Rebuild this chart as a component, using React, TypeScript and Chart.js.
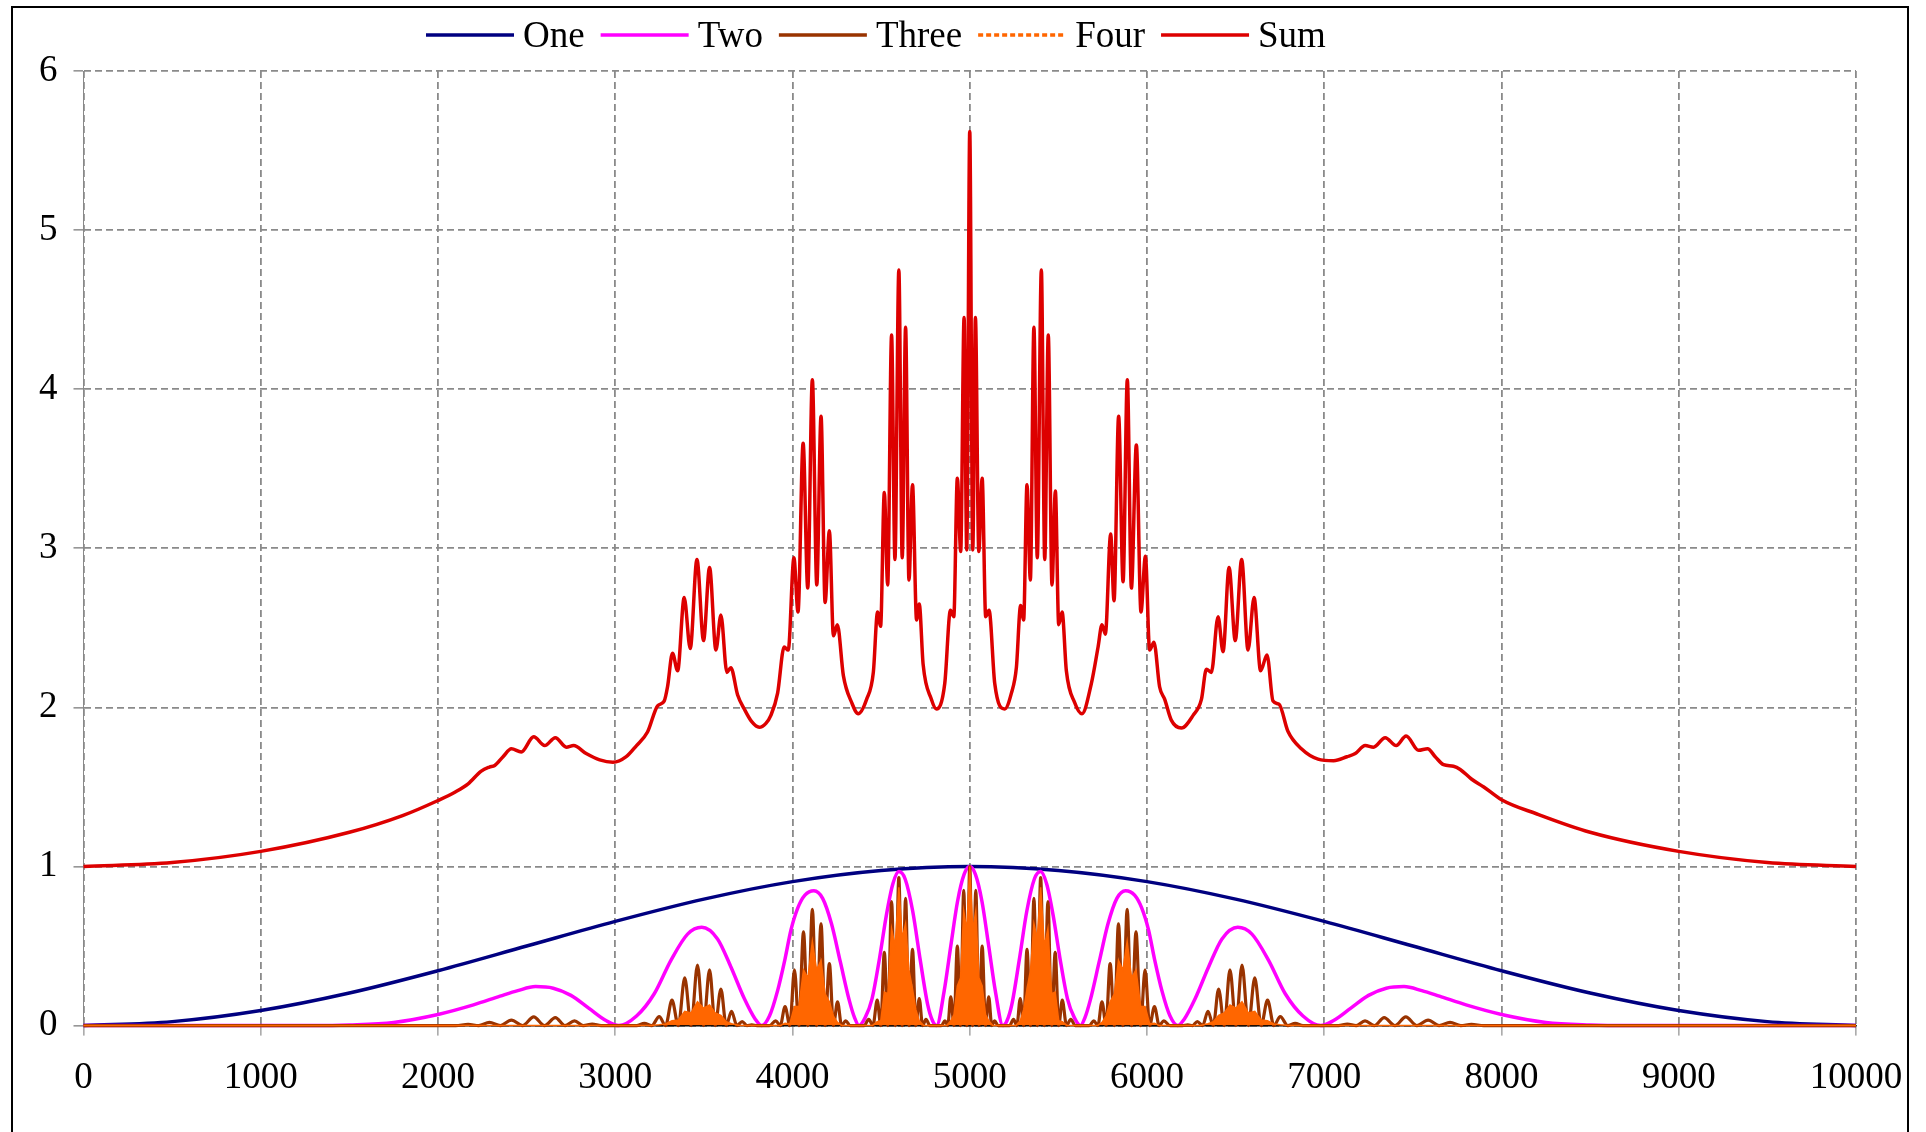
import React, { useEffect, useRef } from 'react';
import { Chart, registerables } from 'chart.js';

Chart.register(...registerables);

const FONT = '"Liberation Serif", "Times New Roman", Times, serif';

const seriesNames = ['One', 'Two', 'Three', 'Four', 'Sum'];
const seriesColors = ['#000080', '#FF00FF', '#993300', '#FF6600', '#DD0000'];

const xTicks = [0, 1000, 2000, 3000, 4000, 5000, 6000, 7000, 8000, 9000, 10000];
const yTicks = [0, 1, 2, 3, 4, 5, 6];

const oneData: [number, number][] = [
  [0, 0], [500, 0.025], [1000, 0.095], [1500, 0.205], [2000, 0.345], [2500, 0.5], [3000, 0.655],
  [3500, 0.795], [4000, 0.905], [4500, 0.975], [5000, 1.0], [5500, 0.975], [6000, 0.905],
  [6500, 0.795], [7000, 0.655], [7500, 0.5], [8000, 0.345], [8500, 0.205], [9000, 0.095],
  [9500, 0.025], [10000, 0],
];

const twoData: [number, number][] = [
  [0, 0], [1300, 0], [1500, 0.004], [1750, 0.02], [2000, 0.07], [2200, 0.13], [2350, 0.185],
  [2450, 0.22], [2550, 0.245], [2650, 0.235], [2750, 0.19], [2850, 0.11], [2950, 0.03], [3020, 0],
  [3120, 0.06], [3220, 0.2], [3314, 0.41], [3408, 0.575], [3488, 0.618], [3577, 0.545], [3652, 0.37],
  [3728, 0.17], [3790, 0.04], [3826, 0],
  [3870, 0.06], [3916, 0.22], [3958, 0.42], [3991, 0.6], [4030, 0.74], [4070, 0.82], [4121, 0.848],
  [4170, 0.8], [4220, 0.64], [4270, 0.4], [4320, 0.16], [4350, 0.05], [4375, 0],
  [4410, 0.05], [4449, 0.17], [4492, 0.43], [4529, 0.69], [4566, 0.89], [4600, 0.968], [4636, 0.92],
  [4678, 0.72], [4721, 0.41], [4763, 0.13], [4790, 0.03], [4813, 0],
  [4856, 0.22], [4893, 0.5], [4931, 0.78], [4968, 0.95], [5000, 1.0], [5032, 0.95], [5069, 0.78],
  [5107, 0.5], [5144, 0.22], [5187, 0],
  [5210, 0.03], [5237, 0.13], [5279, 0.41], [5322, 0.72], [5364, 0.92], [5400, 0.968], [5434, 0.89],
  [5471, 0.69], [5508, 0.43], [5551, 0.17], [5590, 0.05], [5625, 0],
  [5650, 0.05], [5680, 0.16], [5730, 0.4], [5780, 0.64], [5830, 0.8], [5879, 0.848], [5930, 0.82],
  [5970, 0.74], [6009, 0.6], [6042, 0.42], [6084, 0.22], [6130, 0.06], [6174, 0],
  [6210, 0.04], [6272, 0.17], [6348, 0.37], [6423, 0.545], [6512, 0.618], [6592, 0.575],
  [6686, 0.41], [6780, 0.2], [6880, 0.06], [6980, 0],
  [7050, 0.03], [7150, 0.11], [7250, 0.19], [7350, 0.235], [7450, 0.245], [7550, 0.22],
  [7650, 0.185], [7800, 0.13], [8000, 0.07], [8250, 0.02], [8500, 0.004], [8700, 0], [10000, 0],
];

const threeData: [number, number][] = [
  [0, 0], [2100, 0], [2170, 0.008], [2230, 0], [2290, 0.02], [2352, 0], [2414, 0.035], [2477, 0],
  [2540, 0.055], [2601, 0], [2662, 0.05], [2716, 0], [2770, 0.03], [2820, 0], [2870, 0.01], [2920, 0],
  [3120, 0], [3164, 0.014], [3206, 0], [3248, 0.056], [3284, 0], [3320, 0.16], [3356, 0], [3392, 0.3],
  [3428, 0], [3464, 0.38], [3498, 0], [3532, 0.35], [3564, 0], [3596, 0.23], [3626, 0], [3656, 0.09],
  [3686, 0], [3716, 0.025], [3743, 0], [3770, 0.005], [3800, 0],
  [3870, 0], [3905, 0.03], [3931, 0], [3958, 0.12], [3985, 0], [4011, 0.35], [4036, 0], [4062, 0.59],
  [4087, 0], [4112, 0.73], [4136, 0], [4161, 0.64], [4184, 0], [4208, 0.39], [4231, 0], [4254, 0.15],
  [4277, 0], [4300, 0.03], [4325, 0],
  [4405, 0], [4430, 0.04], [4454, 0], [4478, 0.16], [4498, 0], [4518, 0.46], [4538, 0], [4559, 0.78],
  [4579, 0], [4600, 0.93], [4619, 0], [4638, 0.8], [4657, 0], [4677, 0.48], [4696, 0], [4715, 0.17],
  [4734, 0], [4753, 0.04], [4775, 0],
  [4840, 0], [4860, 0.03], [4876, 0], [4893, 0.18], [4911, 0], [4930, 0.5], [4948, 0], [4966, 0.85],
  [4983, 0], [5000, 1.0], [5017, 0], [5034, 0.85], [5052, 0], [5070, 0.5], [5089, 0], [5107, 0.18],
  [5124, 0], [5140, 0.03], [5160, 0],
  [5225, 0], [5247, 0.04], [5266, 0], [5285, 0.17], [5304, 0], [5323, 0.48], [5343, 0], [5362, 0.8],
  [5381, 0], [5400, 0.93], [5421, 0], [5441, 0.78], [5462, 0], [5482, 0.46], [5502, 0], [5522, 0.16],
  [5546, 0], [5570, 0.04], [5595, 0],
  [5675, 0], [5700, 0.03], [5723, 0], [5746, 0.15], [5769, 0], [5792, 0.39], [5816, 0], [5839, 0.64],
  [5864, 0], [5888, 0.73], [5913, 0], [5938, 0.59], [5964, 0], [5989, 0.35], [6015, 0], [6042, 0.12],
  [6069, 0], [6095, 0.03], [6130, 0],
  [6200, 0], [6230, 0.005], [6257, 0], [6284, 0.025], [6314, 0], [6344, 0.09], [6374, 0], [6404, 0.23],
  [6436, 0], [6468, 0.35], [6502, 0], [6536, 0.38], [6572, 0], [6608, 0.3], [6644, 0], [6680, 0.16],
  [6716, 0], [6752, 0.056], [6794, 0], [6836, 0.014], [6880, 0],
  [7080, 0], [7130, 0.01], [7180, 0], [7230, 0.03], [7284, 0], [7338, 0.05], [7399, 0], [7460, 0.055],
  [7523, 0], [7586, 0.035], [7648, 0], [7710, 0.02], [7770, 0], [7830, 0.008], [7900, 0], [10000, 0],
];

const fourData: [number, number][] = [
  [0, 0], [3200, 0], [3248, 0.005], [3284, 0.01], [3320, 0.03], [3356, 0.035], [3392, 0.09], [3428, 0.08],
  [3464, 0.15], [3498, 0.11], [3532, 0.13], [3564, 0.08], [3596, 0.065], [3626, 0.025], [3656, 0.012], [3700, 0],
  [3930, 0], [3958, 0.015], [3985, 0.012], [4011, 0.12], [4036, 0.12], [4062, 0.35], [4087, 0.3], [4112, 0.53],
  [4136, 0.35], [4161, 0.41], [4184, 0.2], [4208, 0.15], [4231, 0.06], [4254, 0.02], [4280, 0],
  [4450, 0], [4478, 0.025], [4498, 0.03], [4518, 0.21], [4538, 0.2], [4559, 0.61], [4579, 0.5], [4600, 0.87],
  [4619, 0.55], [4638, 0.64], [4657, 0.35], [4677, 0.23], [4696, 0.1], [4715, 0.03], [4740, 0],
  [4870, 0], [4893, 0.03], [4911, 0.07], [4930, 0.25], [4948, 0.3], [4966, 0.72], [4983, 0.6], [5000, 1.0],
  [5017, 0.6], [5034, 0.72], [5052, 0.3], [5070, 0.25], [5089, 0.07], [5107, 0.03], [5130, 0],
  [5260, 0], [5285, 0.03], [5304, 0.1], [5323, 0.23], [5343, 0.35], [5362, 0.64], [5381, 0.55], [5400, 0.87],
  [5421, 0.5], [5441, 0.61], [5462, 0.2], [5482, 0.21], [5502, 0.03], [5522, 0.025], [5550, 0],
  [5720, 0], [5746, 0.02], [5769, 0.06], [5792, 0.15], [5816, 0.2], [5839, 0.41], [5864, 0.35], [5888, 0.53],
  [5913, 0.3], [5938, 0.35], [5964, 0.12], [5989, 0.12], [6015, 0.012], [6042, 0.015], [6070, 0],
  [6300, 0], [6344, 0.012], [6374, 0.025], [6404, 0.065], [6436, 0.08], [6468, 0.13], [6502, 0.11], [6536, 0.15],
  [6572, 0.08], [6608, 0.09], [6644, 0.035], [6680, 0.03], [6716, 0.01], [6752, 0.005], [6800, 0], [10000, 0],
];

const sumData: [number, number][] = [
  [0, 1.0], [500, 1.025], [1000, 1.095], [1500, 1.215], [1800, 1.32], [2000, 1.415], [2100, 1.47],
  [2170, 1.52], [2244, 1.6], [2290, 1.625], [2320, 1.635], [2367, 1.69], [2414, 1.74], [2470, 1.72],
  [2540, 1.815], [2602, 1.76], [2662, 1.81], [2724, 1.75], [2765, 1.76], [2836, 1.71], [2912, 1.67],
  [2987, 1.655], [3062, 1.69], [3120, 1.76], [3182, 1.845], [3239, 2.01], [3276, 2.04], [3295, 2.13],
  [3323, 2.34], [3352, 2.23], [3389, 2.69], [3423, 2.37], [3461, 2.93], [3498, 2.42], [3532, 2.88],
  [3568, 2.36], [3596, 2.58], [3630, 2.22], [3652, 2.25], [3690, 2.08], [3728, 1.99], [3770, 1.91],
  [3812, 1.875], [3850, 1.9], [3878, 1.95], [3916, 2.09], [3953, 2.38], [3976, 2.36], [4008, 2.94],
  [4031, 2.6], [4060, 3.66], [4086, 2.75], [4112, 4.06], [4137, 2.77], [4161, 3.83], [4184, 2.66],
  [4208, 3.11], [4231, 2.45], [4253, 2.52], [4287, 2.2], [4334, 2.03], [4371, 1.96], [4418, 2.05],
  [4456, 2.22], [4480, 2.6], [4497, 2.51], [4518, 3.35], [4537, 2.77], [4559, 4.34], [4578, 2.93],
  [4600, 4.75], [4619, 2.94], [4638, 4.39], [4657, 2.8], [4677, 3.4], [4700, 2.55], [4715, 2.65],
  [4737, 2.27], [4784, 2.05], [4812, 1.99], [4859, 2.15], [4891, 2.61], [4910, 2.57], [4930, 3.44],
  [4949, 2.98], [4968, 4.45], [4983, 2.99], [5000, 5.62], [5017, 2.99], [5032, 4.45], [5051, 2.98],
  [5070, 3.44], [5090, 2.57], [5109, 2.61], [5141, 2.15], [5197, 1.99], [5235, 2.09], [5263, 2.25],
  [5287, 2.64], [5304, 2.55], [5323, 3.4], [5342, 2.8], [5362, 4.39], [5381, 2.94], [5404, 4.75],
  [5423, 2.93], [5443, 4.34], [5464, 2.77], [5483, 3.36], [5502, 2.52], [5521, 2.6], [5545, 2.23],
  [5592, 2.03], [5633, 1.96], [5686, 2.15], [5724, 2.38], [5746, 2.52], [5765, 2.46], [5795, 3.09],
  [5814, 2.67], [5840, 3.83], [5865, 2.79], [5889, 4.06], [5912, 2.75], [5940, 3.65], [5966, 2.6],
  [5991, 2.95], [6015, 2.36], [6039, 2.41], [6071, 2.13], [6100, 2.05], [6137, 1.92], [6194, 1.87],
  [6260, 1.95], [6307, 2.05], [6335, 2.24], [6363, 2.22], [6401, 2.57], [6429, 2.35], [6463, 2.88],
  [6498, 2.42], [6534, 2.93], [6570, 2.36], [6604, 2.69], [6641, 2.23], [6677, 2.33], [6711, 2.04],
  [6745, 2.02], [6795, 1.85], [6871, 1.74], [6965, 1.675], [7053, 1.665], [7128, 1.69], [7175, 1.71],
  [7231, 1.76], [7278, 1.75], [7344, 1.81], [7406, 1.76], [7462, 1.82], [7532, 1.73], [7583, 1.74],
  [7626, 1.69], [7673, 1.64], [7729, 1.63], [7767, 1.61], [7830, 1.55], [7900, 1.5], [8000, 1.42],
  [8200, 1.33], [8500, 1.215], [9000, 1.095], [9500, 1.025], [10000, 1.0],
];

const legendDash: number[][] = [[], [], [], [5, 3], []];

const excelLegend = {
  id: 'excelLegend',
  afterDraw(chart: any) {
    const ctx = chart.ctx as CanvasRenderingContext2D;
    ctx.save();
    ctx.font = `37px ${FONT}`;
    ctx.textBaseline = 'middle';
    ctx.textAlign = 'left';
    let x = 426;
    const y = 36;
    chart.data.datasets.forEach((ds: any, i: number) => {
      ctx.strokeStyle = ds.borderColor;
      ctx.lineWidth = 3.5;
      ctx.setLineDash(legendDash[i]);
      ctx.beginPath();
      ctx.moveTo(x, y - 1);
      ctx.lineTo(x + 88, y - 1);
      ctx.stroke();
      ctx.setLineDash([]);
      ctx.fillStyle = '#000';
      ctx.fillText(ds.label, x + 97, y + 1);
      x += 97 + ctx.measureText(ds.label).width + 16;
    });
    // outer chart frame
    ctx.strokeStyle = '#000';
    ctx.lineWidth = 2;
    ctx.beginPath();
    ctx.moveTo(12, 1132);
    ctx.lineTo(12, 7);
    ctx.lineTo(1908, 7);
    ctx.lineTo(1908, 1132);
    ctx.stroke();
    ctx.restore();
  },
};

const toPoints = (d: [number, number][]) => d.map(([x, y]) => ({ x, y }));

export default function App() {
  const ref = useRef<HTMLCanvasElement>(null);

  useEffect(() => {
    if (!ref.current) return;
    const all = [oneData, twoData, threeData, fourData, sumData];
    const widths = [3.5, 3.5, 3.2, 1.5, 3.5];
    const orders = [4, 3, 2, 1, 0];
    const chart = new Chart(ref.current, {
      type: 'line',
      data: {
        datasets: all.map((d, i) => ({
          label: seriesNames[i],
          data: toPoints(d),
          borderColor: seriesColors[i],
          backgroundColor: seriesColors[i],
          borderWidth: widths[i],
          pointRadius: 0,
          order: orders[i],
          clip: false as any,
          fill: i === 3 ? 'origin' : false,
          cubicInterpolationMode: i === 3 ? 'default' : 'monotone',
          tension: 0,
        })) as any,
      },
      options: {
        responsive: false,
        animation: false,
        devicePixelRatio: 1,
        events: [],
        layout: { padding: { left: 0, right: 70, top: 71, bottom: 0 } },
        plugins: { legend: { display: false }, tooltip: { enabled: false }, title: { display: false } },
        scales: {
          x: {
            type: 'linear',
            min: 0,
            max: 10000,
            afterFit: (s: any) => { s.height = 106.4; },
            afterBuildTicks: (s: any) => { s.ticks = xTicks.map((v) => ({ value: v })); },
            ticks: {
              font: { family: FONT, size: 37 },
              color: '#000',
              padding: 20,
              maxRotation: 0,
              autoSkip: false,
              callback: (v: any) => String(v),
            },
            grid: { color: '#8a8a8a', lineWidth: 1.8, tickLength: 10, tickColor: '#777', tickWidth: 1, tickBorderDash: [] } as any,
            border: { display: true, color: '#000', width: 1.5, dash: [7, 4] },
          },
          y: {
            type: 'linear',
            min: 0,
            max: 6,
            afterFit: (s: any) => { s.width = 83.5; },
            afterBuildTicks: (s: any) => { s.ticks = yTicks.map((v) => ({ value: v })); },
            ticks: {
              font: { family: FONT, size: 37 },
              color: '#000',
              padding: 16,
              callback: (v: any) => String(v),
            },
            grid: { color: '#8a8a8a', lineWidth: 1.8, tickLength: 10, tickColor: '#555', tickWidth: 1, tickBorderDash: [] } as any,
            border: { display: true, color: '#888', width: 1, dash: [7, 4] },
          },
        },
      } as any,
      plugins: [excelLegend],
    });
    return () => chart.destroy();
  }, []);

  return (
    <div style={{ position: 'absolute', left: 0, top: 0, width: 1926, height: 1132, background: '#fff', overflow: 'hidden' }}>
      <canvas ref={ref} width={1926} height={1132} style={{ display: 'block', width: 1926, height: 1132 }} />
    </div>
  );
}
